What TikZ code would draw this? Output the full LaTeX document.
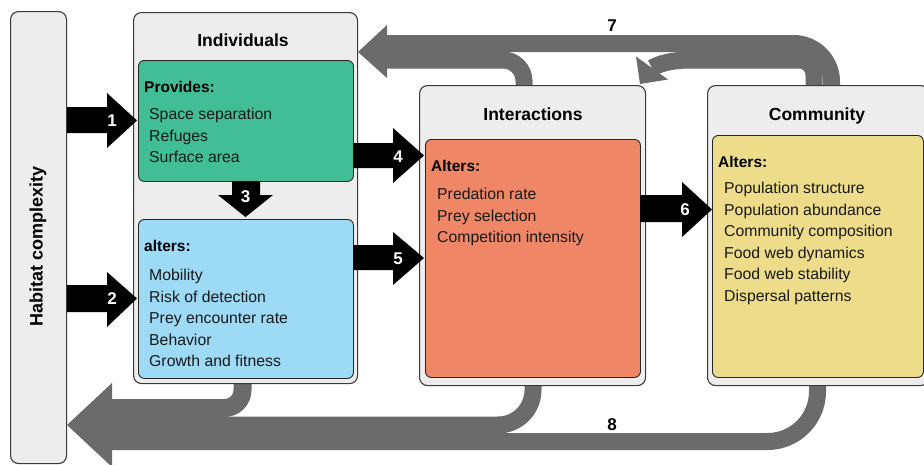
\documentclass[tikz,border=0pt]{standalone}
\usepackage{fontspec}
\setmainfont{Liberation Sans}
\definecolor{boxgray}{HTML}{EDEDED}
\definecolor{edgec}{HTML}{3A3A3A}
\definecolor{grn}{HTML}{42BE97}
\definecolor{blu}{HTML}{9DDAF5}
\definecolor{org}{HTML}{EF8766}
\definecolor{yel}{HTML}{EDDD8A}
\definecolor{arrgray}{HTML}{6B6B6B}
\begin{document}
\begin{tikzpicture}[x=1pt,y=-1pt,
  outerbox/.style={draw=edgec, fill=boxgray, line width=1.1pt, rounded corners=8pt, anchor=north west, inner sep=0pt},
  innerbox/.style={draw=black!85, line width=0.9pt, rounded corners=6pt, anchor=north west, inner sep=0pt},
  titletext/.style={font=\fontsize{17.5pt}{20pt}\selectfont\bfseries, anchor=base, inner sep=0pt},
  headtext/.style={font=\fontsize{15.5pt}{19pt}\selectfont\bfseries, anchor=base west, inner sep=0pt},
  itemtext/.style={font=\fontsize{15.8pt}{19pt}\selectfont, anchor=base west, inner sep=0pt, text=black!90},
  numw/.style={font=\fontsize{17pt}{20pt}\selectfont\bfseries, text=white, inner sep=0pt},
  numb/.style={font=\fontsize{17pt}{20pt}\selectfont\bfseries, text=black, inner sep=0pt},
  garrow/.style={draw=arrgray, line cap=butt},
  blockarrow/.style={fill=black}
]
\useasboundingbox (0,0) rectangle (924,464);

% ---- gray feedback arrows (drawn first, under boxes)
% arrow 7
\draw[garrow, line width=17pt, rounded corners=38pt] (831.5,92) -- (831.5,43.5) -- (386,43.5);
\draw[garrow, line width=17pt, rounded corners=21pt] (524,92) -- (524,60) -- (386,60);
\fill[arrgray] (387,25) -- (358,52) -- (387,78) -- cycle;
\draw[garrow, line width=17pt, rounded corners=15pt] (814,92) -- (814,60) -- (705,60) .. controls (682,60) and (663,61) .. (652,68);
\fill[arrgray] (668,79.5) -- (640,84) -- (636,56.5) -- cycle;
% arrow 8
\draw[garrow, line width=18pt, rounded corners=18pt] (242.5,376) -- (242.5,408) -- (111,408);
\draw[garrow, line width=17pt, rounded corners=35pt] (533,378) -- (533,425) -- (111,425);
\draw[garrow, line width=17pt, rounded corners=50pt] (817.5,378) -- (817.5,441.5) -- (111,441.5);
\fill[arrgray] (112,383) -- (67,425) -- (112,467) -- cycle;

% ---- boxes
\node[outerbox, minimum width=56pt, minimum height=452pt] (hab) at (10,11) {};
\node[outerbox, minimum width=224pt, minimum height=371pt] (ind) at (133,12) {};
\node[innerbox, fill=grn, minimum width=215pt, minimum height=121pt] (grnbox) at (138,60) {};
\node[innerbox, fill=blu, minimum width=215pt, minimum height=159pt] (blubox) at (138,219) {};
\node[outerbox, minimum width=226pt, minimum height=300pt] (int) at (419,85) {};
\node[innerbox, fill=org, minimum width=215pt, minimum height=238pt] (orgbox) at (425,139) {};
\node[outerbox, minimum width=221pt, minimum height=300pt] (com) at (707,85) {};
\node[innerbox, fill=yel, minimum width=211pt, minimum height=242pt] (yelbox) at (712,135) {};

% ---- titles
\node[titletext, font=\fontsize{18pt}{20pt}\selectfont\bfseries, rotate=90, anchor=center] (habt) at (38,246) {Habitat complexity};
\node[titletext] (indt) at (243,46.5) {Individuals};
\node[titletext] (intt) at (533,120.5) {Interactions};
\node[titletext] (comt) at (817,120) {Community};

% ---- headers
\node[headtext] (gh) at (144,92.5) {Provides:};
\node[headtext] (bh) at (144,251.5) {alters:};
\node[headtext] (oh) at (431,171.5) {Alters:};
\node[headtext] (yh) at (718,167.5) {Alters:};

% ---- items
\foreach \t [count=\i] in {Space separation, Refuges, Surface area}
  \node[itemtext] (gi\i) at (149,{119.5+21.5*(\i-1)}) {\t};
\foreach \t [count=\i] in {Mobility, Risk of detection, Prey encounter rate, Behavior, Growth and fitness}
  \node[itemtext] (bi\i) at (149,{280.5+21.5*(\i-1)}) {\t};
\foreach \t [count=\i] in {Predation rate, Prey selection, Competition intensity}
  \node[itemtext] (oi\i) at (437,{199.5+21.5*(\i-1)}) {\t};
\foreach \t [count=\i] in {Population structure, Population abundance, Community composition, Food web dynamics, Food web stability, Dispersal patterns}
  \node[itemtext] (yi\i) at (724,{193.5+21.5*(\i-1)}) {\t};

% ---- black block arrows
% 1
\fill[blockarrow] (hab.east |- 0,107) -- (107,107) -- (107,93) -- (137,120.5) -- (107,148) -- (107,133) -- (hab.east |- 0,133) -- cycle;
% 2
\fill[blockarrow] (hab.east |- 0,285) -- (107,285) -- (107,272) -- (137,298.5) -- (107,327) -- (107,312) -- (hab.east |- 0,312) -- cycle;
% 3
\fill[blockarrow] (232,181) -- (232,195) -- (218,195) -- (245.5,217) -- (273,195) -- (260,195) -- (260,181) -- cycle;
% 4
\fill[blockarrow] (353,143) -- (393,143) -- (393,128) -- (424,155.5) -- (393,183) -- (393,168) -- (353,168) -- cycle;
% 5
\fill[blockarrow] (353,245) -- (393,245) -- (393,232) -- (424,258) -- (393,285) -- (393,270) -- (353,270) -- cycle;
% 6
\fill[blockarrow] (640,195) -- (682,195) -- (682,182) -- (712,209.5) -- (682,237) -- (682,222) -- (640,222) -- cycle;

% ---- numbers
\node[numw] (n1) at (112,120.5) {1};
\node[numw] (n2) at (112,298.5) {2};
\node[numw] (n3) at (245.5,197) {3};
\node[numw] (n4) at (398,157) {4};
\node[numw] (n5) at (398,259) {5};
\node[numw] (n6) at (685,210) {6};
\node[numb] (n7) at (612,26) {7};
\node[numb] (n8) at (612,425) {8};
\end{tikzpicture}
\end{document}
